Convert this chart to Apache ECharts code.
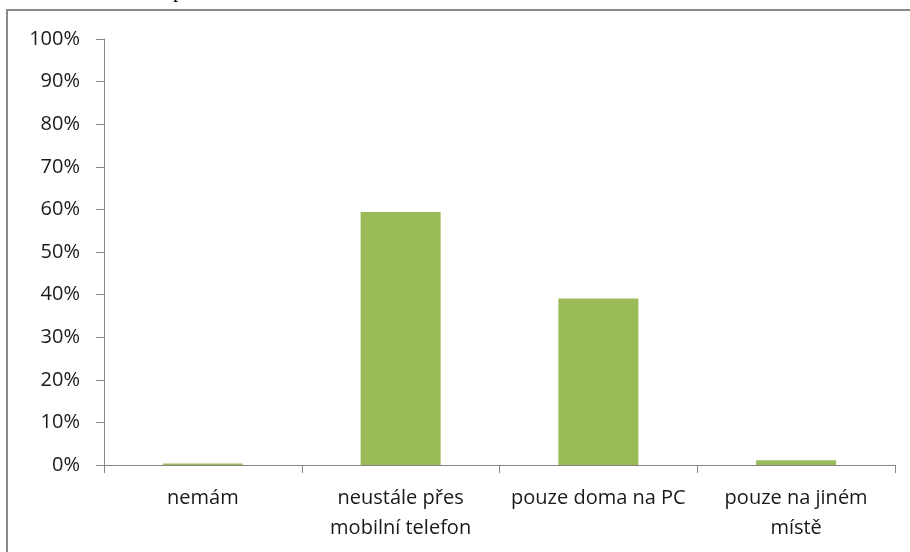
<!DOCTYPE html>
<html>
<head>
<meta charset="utf-8">
<script src="https://cdn.jsdelivr.net/npm/echarts@6/dist/echarts.min.js"></script>
<style>
  html, body { margin: 0; padding: 0; background: #fff; }
  #chart { width: 910px; height: 552px; }
</style>
</head>
<body>
<div id="chart"></div>
<script>
// categories and values (percent)
const categories = ['nemám', 'neustále přes\nmobilní telefon', 'pouze doma na PC', 'pouze na jiném\nmístě']
const values = [0.35, 59.4, 39.1, 1.1]
const yTicks = [0, 10, 20, 30, 40, 50, 60, 70, 80, 90, 100]

const chart = echarts.init(document.getElementById('chart'))
chart.setOption({
  animation: false,
  textStyle: { fontFamily: 'Open Sans, Noto Sans, sans-serif' },
  graphic: [
    // outer frame, cut off on right and bottom
    {
      type: 'rect',
      shape: { x: 7, y: 10, width: 920, height: 560 },
      style: { fill: 'none', stroke: '#8a8a8a', lineWidth: 2 },
      z: -1
    },
    // cut-off letter from the text above the chart
    {
      type: 'text',
      left: 173,
      top: -20,
      style: { text: 'p', font: '22px "Liberation Serif", serif', fill: '#000' }
    }
  ],
  grid: { left: 104, right: 15, top: 39, bottom: 87 },
  xAxis: {
    type: 'category',
    data: categories,
    axisLine: { lineStyle: { color: '#868686', width: 1 } },
    axisTick: { show: true, length: 8, alignWithLabel: false, lineStyle: { color: '#868686' } },
    axisLabel: { color: '#1a1a1a', fontSize: 20, lineHeight: 30, margin: 18, interval: 0 }
  },
  yAxis: {
    type: 'value',
    min: 0,
    max: 100,
    interval: 10,
    axisLine: { show: true, lineStyle: { color: '#868686', width: 1 } },
    axisTick: { show: true, length: 8, lineStyle: { color: '#868686' } },
    splitLine: { show: false },
    axisLabel: {
      color: '#1a1a1a',
      fontSize: 20,
      margin: 24,
      formatter: v => (yTicks.includes(v) ? v + '%' : '')
    }
  },
  series: [{
    type: 'bar',
    data: values,
    barWidth: 80,
    itemStyle: { color: '#9BBB59' }
  }]
})
</script>
</body>
</html>
